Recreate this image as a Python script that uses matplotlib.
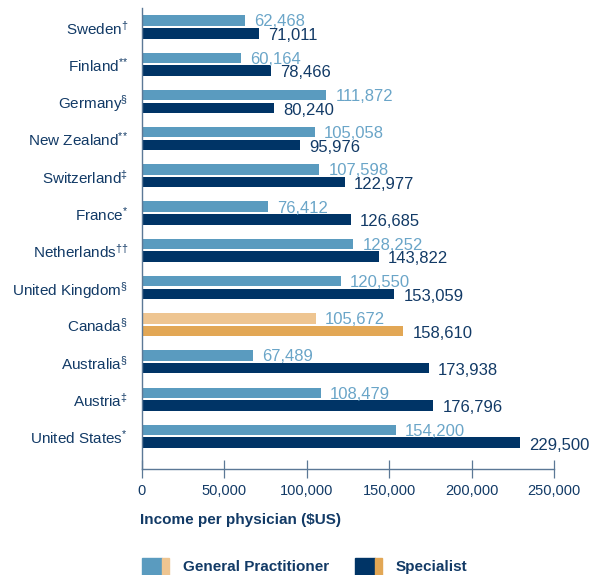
import matplotlib
matplotlib.use('Agg')
import matplotlib.pyplot as plt
from matplotlib.patches import Rectangle

plt.rcParams['font.family'] = ['Liberation Sans', 'DejaVu Sans']
plt.rcParams['mathtext.fontset'] = 'custom'
plt.rcParams['mathtext.rm'] = 'Liberation Sans'
plt.rcParams['mathtext.it'] = 'Liberation Sans'
plt.rcParams['mathtext.bf'] = 'Liberation Sans:bold'
plt.rcParams['mathtext.default'] = 'rm'

# data, top to bottom
countries = ['Sweden', 'Finland', 'Germany', 'New Zealand', 'Switzerland', 'France',
             'Netherlands', 'United Kingdom', 'Canada', 'Australia', 'Austria', 'United States']
notes = [r'\dagger', '{*}{*}', r'\S', '{*}{*}', r'\ddagger', '{*}',
         r'{\dagger}{\dagger}', r'\S', r'\S', r'\S', r'\ddagger', '{*}']
gp = [62468, 60164, 111872, 105058, 107598, 76412, 128252, 120550, 105672, 67489, 108479, 154200]
spec = [71011, 78466, 80240, 95976, 122977, 126685, 143822, 153059, 158610, 173938, 176796, 229500]
xticks = [0, 50000, 100000, 150000, 200000, 250000]

gp_col = '#5a9bbf'
spec_col = '#003466'
gp_hi = '#eec591'
spec_hi = '#e2a755'
axis_col = '#5b7896'
text_col = '#123a66'
gp_text = '#6aa5c8'

fig = plt.figure(figsize=(5.89, 5.75), dpi=100)
ax = fig.add_axes([142 / 589, 106 / 575, 412 / 589, 461 / 575])

ys = list(range(len(countries)))
off = 0.17
h = 0.28
gp_colors = [gp_hi if c == 'Canada' else gp_col for c in countries]
spec_colors = [spec_hi if c == 'Canada' else spec_col for c in countries]
ax.barh([y - off for y in ys], gp, height=h, color=gp_colors)
ax.barh([y + off for y in ys], spec, height=h, color=spec_colors)

for y, g, s in zip(ys, gp, spec):
    ax.annotate(f'{g:,}', (g, y - off), xytext=(6.5, -4.2), textcoords='offset points',
                va='baseline', ha='left', fontsize=12, color=gp_text)
    ax.annotate(f'{s:,}', (s, y + off), xytext=(6.5, -5.0), textcoords='offset points',
                va='baseline', ha='left', fontsize=12, color=text_col)

ax.set_xlim(0, 250000)
ax.set_ylim(11.88, -0.51)
ax.set_yticks(ys)
ax.set_yticklabels([f'{c}$^{{{n}}}$' for c, n in zip(countries, notes)],
                   fontsize=11, color=text_col)
ax.tick_params(axis='y', length=0, pad=10)
ax.set_xticks(xticks)
ax.set_xticklabels([f'{t:,}' for t in xticks], fontsize=10.5, color=text_col)
ax.tick_params(axis='x', direction='inout', length=13, width=0.9, color=axis_col, pad=4)

for side in ['top', 'right']:
    ax.spines[side].set_visible(False)
for side in ['left', 'bottom']:
    ax.spines[side].set_color(axis_col)
    ax.spines[side].set_linewidth(1.0)

fig.text(140 / 589, 1 - 520 / 575, 'Income per physician ($US)', fontsize=11,
         fontweight='bold', color=text_col, ha='left', va='center')

# legend: two-tone swatches
def swatch(x, c1, c2):
    fig.patches.append(Rectangle((x / 589, 0), 20 / 589, 17 / 575, color=c1,
                                 transform=fig.transFigure, figure=fig))
    fig.patches.append(Rectangle(((x + 20) / 589, 0), 7 / 589, 17 / 575, color=c2,
                                 transform=fig.transFigure, figure=fig))

swatch(142, gp_col, gp_hi)
swatch(355, spec_col, spec_hi)
fig.text(183 / 589, 1 - 567 / 575, 'General Practitioner', fontsize=11,
         fontweight='bold', color=text_col, ha='left', va='center')
fig.text(396 / 589, 1 - 567 / 575, 'Specialist', fontsize=11,
         fontweight='bold', color=text_col, ha='left', va='center')

fig.savefig('out.png', dpi=100)
